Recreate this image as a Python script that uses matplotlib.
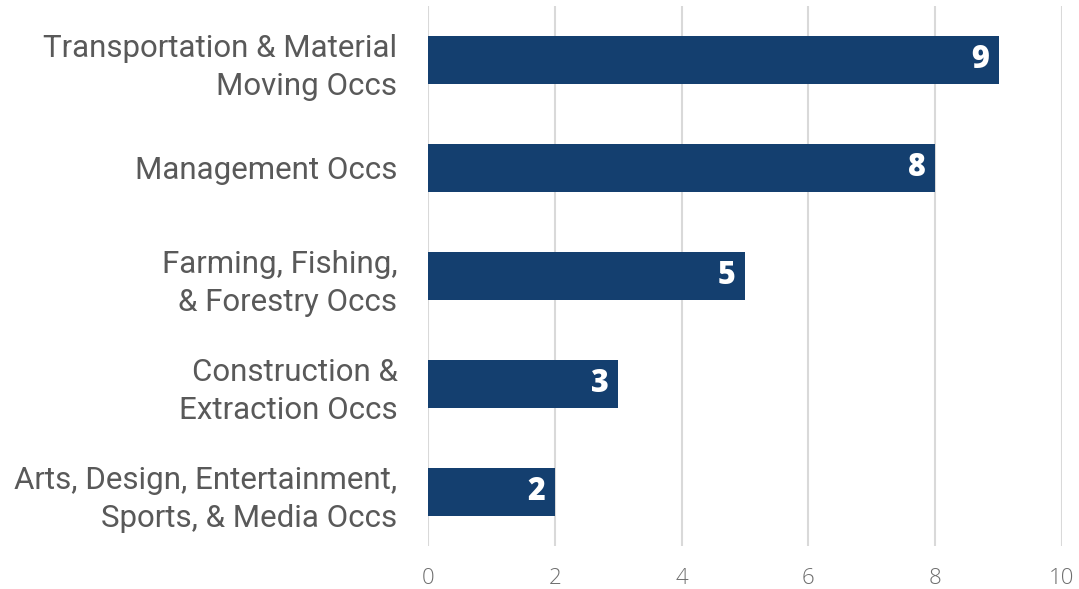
import matplotlib
matplotlib.use("Agg")
import matplotlib.pyplot as plt

categories = ["Arts, Design, Entertainment,\nSports, & Media Occs",
              "Construction &\nExtraction Occs",
              "Farming, Fishing,\n& Forestry Occs",
              "Management Occs",
              "Transportation & Material\nMoving Occs"]
values = [2, 3, 5, 8, 9]
xticks = [0, 2, 4, 6, 8, 10]

bar_color = "#143F6F"
text_color = "#595959"

fig = plt.figure(figsize=(10.79, 5.89), dpi=100)
ax = fig.add_axes([0.3967, 0.073, 0.5875, 0.917])

ypos = list(range(len(categories)))
bars = ax.barh(ypos, values, height=0.45, color=bar_color, zorder=3)

for y, v in zip(ypos, values):
    ax.text(v - 0.15, y, str(v), ha="right", va="center", color="white",
            fontsize=22, fontweight="heavy", family="Open Sans", zorder=4)

ax.set_xlim(0, 10)
ax.set_ylim(-0.5, 4.5)
ax.set_xticks(xticks)
ax.set_xticklabels([str(t) for t in xticks], family="Open Sans", fontweight="light",
                   fontsize=16, color="#6E6E6E")
ax.set_yticks(ypos)
ax.set_yticklabels(categories, family="Roboto", fontsize=22.5,
                   color=text_color, linespacing=1.4)
ax.tick_params(axis="both", length=0)
ax.tick_params(axis="y", pad=22)
ax.tick_params(axis="x", pad=16)
for lbl in ax.get_yticklabels():
    lbl.set_horizontalalignment("right")

ax.grid(axis="x", color="#D9D9D9", linewidth=1.5, zorder=0)
for s in ax.spines.values():
    s.set_visible(False)

fig.savefig("out.png", dpi=100)
